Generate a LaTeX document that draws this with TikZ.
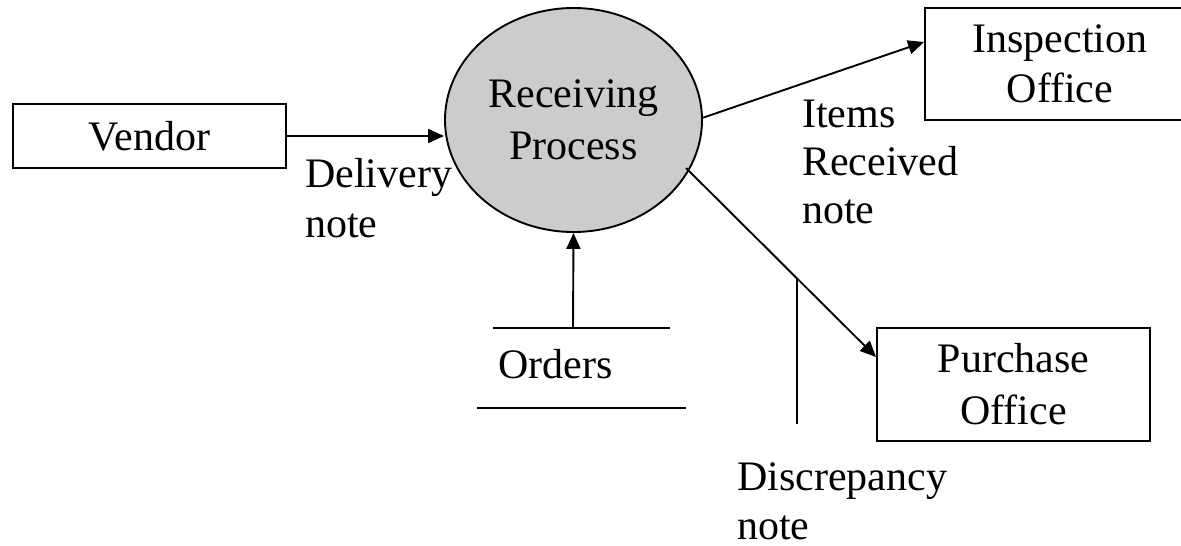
\documentclass[tikz,border=0pt]{standalone}
\usepackage{fontspec}
\setmainfont{Liberation Serif}
\usetikzlibrary{arrows.meta,shapes.geometric}
\definecolor{procgray}{RGB}{204,204,204}
\begin{document}
\begin{tikzpicture}[x=1pt,y=-1pt,
  every node/.style={font=\fontsize{42}{50}\selectfont},
  line/.style={line width=1.9pt},
  flow/.style={line, -{Triangle[length=16pt,width=14pt]}},
  entity/.style={draw, line width=1.9pt, rectangle, inner sep=0pt, align=center},
  process/.style={draw, line width=1.9pt, ellipse, fill=procgray, inner sep=0pt,
    minimum width=257pt, minimum height=224pt, align=center,
    font=\fontsize{42}{52}\selectfont},
  lbl/.style={anchor=base west, inner sep=0pt}]
  \clip (0,0) rectangle (1181,546);

  % external entities and the process
  \node[entity, minimum width=273pt, minimum height=64pt] (vendor) at (149.5,136) {Vendor};
  \node[process] (proc) at (573.5,120) {Receiving\\Process};
  \node[entity, minimum width=270pt, minimum height=112pt] (insp) at (1060,64) {Inspection\\Office};
  \node[entity, minimum width=273pt, minimum height=113pt, font=\fontsize{42}{52}\selectfont] (purch) at (1013.5,384.5) {Purchase\\Office};

  % data store
  \node[lbl] (orders) at (498,378) {Orders};
  \coordinate (otop) at (573,328);
  \draw[line] (493,328) -- (670,328);
  \draw[line] (477,408) -- (686,408);

  % flow labels
  \node[lbl] (dl1) at (305,187) {Delivery};
  \node[lbl] (dl2) at (305,237) {note};
  \node[lbl] (ir1) at (802,127) {Items};
  \node[lbl] (ir2) at (802,175) {Received};
  \node[lbl] (ir3) at (802,223) {note};
  \node[lbl] (dn1) at (737,490) {Discrepancy};
  \node[lbl] (dn2) at (737,539) {note};

  % data flows
  \draw[flow] (vendor.east) -- (vendor.east -| proc.west);
  \draw[flow] (otop) -- (proc.south);
  \coordinate (inspin) at ([yshift=22pt]insp.west);
  \draw[flow] (proc.1) -- (inspin);
  \coordinate (purchin) at ([yshift=-30pt]purch.north west);
  \coordinate (dstart) at (686,168);
  \draw[flow] (dstart) -- (purchin);
  \coordinate (dtop) at (797,279);
  \coordinate (dbot) at (797,424);
  \draw[line] (dtop) -- (dbot);
\end{tikzpicture}
\end{document}
